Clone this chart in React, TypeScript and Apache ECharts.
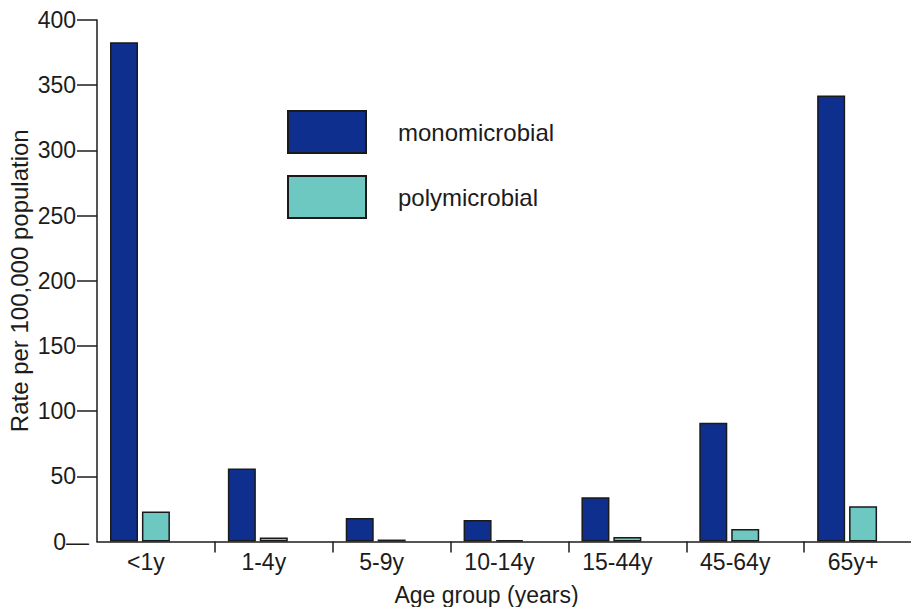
import React, { useEffect, useRef } from "react";
import * as echarts from "echarts";

const categories = ["<1y", "1-4y", "5-9y", "10-14y", "15-44y", "45-64y", "65y+"];
const monomicrobial = [383, 56, 18, 16.5, 34, 91, 342];
const polymicrobial = [23, 3, 1.5, 1, 3.5, 9.5, 27];
const yTicks = [0, 50, 100, 150, 200, 250, 300, 350, 400];
const boundaryTicks = [1, 2, 3, 4, 5, 6];

const FONT = "'Liberation Sans', Arial, Helvetica, sans-serif";
const INK = "#1c1c1c";

export default function App() {
  const ref = useRef<HTMLDivElement>(null);
  useEffect(() => {
    if (!ref.current) return;
    const chart = echarts.init(ref.current, undefined, { renderer: "svg" });
    chart.setOption({
      animation: false,
      backgroundColor: "#ffffff",
      textStyle: { fontFamily: FONT, color: INK },
      grid: {
        left: 97,
        top: 20,
        width: 825,
        height: 521.5,
        containLabel: false,
        outerBoundsMode: "none",
      },
      legend: {
        data: ["monomicrobial", "polymicrobial"],
        orient: "vertical",
        left: 287,
        top: 110,
        padding: 0,
        itemWidth: 78,
        itemHeight: 42,
        itemGap: 21,
        selectedMode: false,
        icon: "rect",
        textStyle: { fontSize: 24, color: INK, fontFamily: FONT, padding: [0, 0, 0, 27] },
      },
      xAxis: [
        {
          type: "category",
          data: categories,
          position: "bottom",
          axisLine: { show: false },
          axisTick: { show: false },
          axisLabel: { fontSize: 23, color: INK, margin: 9, fontFamily: FONT, padding: [0, 20, 0, 0] },
          name: "Age group (years)",
          nameLocation: "middle",
          nameGap: 42,
          nameMoveOverlap: false,
          nameTextStyle: { fontSize: 23, color: INK, fontFamily: FONT, padding: [0, 46, 0, 0] },
        },
        {
          type: "value",
          position: "bottom",
          min: 0,
          max: categories.length,
          interval: 1,
          axisLine: { show: true, onZero: false, lineStyle: { color: INK, width: 1.5 } },
          axisTick: { show: true, length: 11, customValues: boundaryTicks, lineStyle: { color: INK, width: 1.5 } },
          axisLabel: { show: false },
          splitLine: { show: false },
        },
      ],
      yAxis: {
        type: "value",
        min: 0,
        max: 400,
        interval: 50,
        axisLine: { show: true, lineStyle: { color: INK, width: 1.5 } },
        axisTick: {
          show: true,
          length: 20,
          customValues: yTicks.filter((v) => v !== 0),
          lineStyle: { color: INK, width: 1.5 },
        },
        splitLine: { show: false },
        axisLabel: {
          customValues: yTicks,
          margin: 8,
          fontSize: 23,
          color: INK,
          fontFamily: FONT,
          formatter: (v: number) => (v === 0 ? "{z|0—}" : "{n|" + v + "}"),
          rich: {
            n: { fontSize: 23, color: INK, fontFamily: FONT, padding: [0, 13, 0, 0] },
            z: { fontSize: 23, color: INK, fontFamily: FONT },
          },
        },
        name: "Rate per 100,000 population",
        nameLocation: "middle",
        nameGap: 66,
        nameMoveOverlap: false,
        nameTextStyle: { fontSize: 24, color: INK, fontFamily: FONT },
      },
      series: [
        {
          name: "monomicrobial",
          type: "bar",
          xAxisIndex: 0,
          data: monomicrobial,
          barWidth: 28,
          barGap: "14%",
          itemStyle: { color: "#0f2f8f", borderColor: "#1a1a1a", borderWidth: 1.5 },
        },
        {
          name: "polymicrobial",
          type: "bar",
          xAxisIndex: 0,
          data: polymicrobial,
          barWidth: 28,
          barGap: "14%",
          itemStyle: { color: "#6cc8c0", borderColor: "#1a1a1a", borderWidth: 1.5 },
        },
        {
          name: "spacer",
          type: "bar",
          xAxisIndex: 0,
          data: categories.map(() => 0),
          barWidth: 28,
          barGap: "14%",
          silent: true,
          itemStyle: { color: "rgba(0,0,0,0)", borderWidth: 0 },
        },
      ],
    });
    return () => chart.dispose();
  }, []);
  return (
    <div
      ref={ref}
      style={{ position: "absolute", left: 0, top: 0, width: 911, height: 607 }}
    />
  );
}
